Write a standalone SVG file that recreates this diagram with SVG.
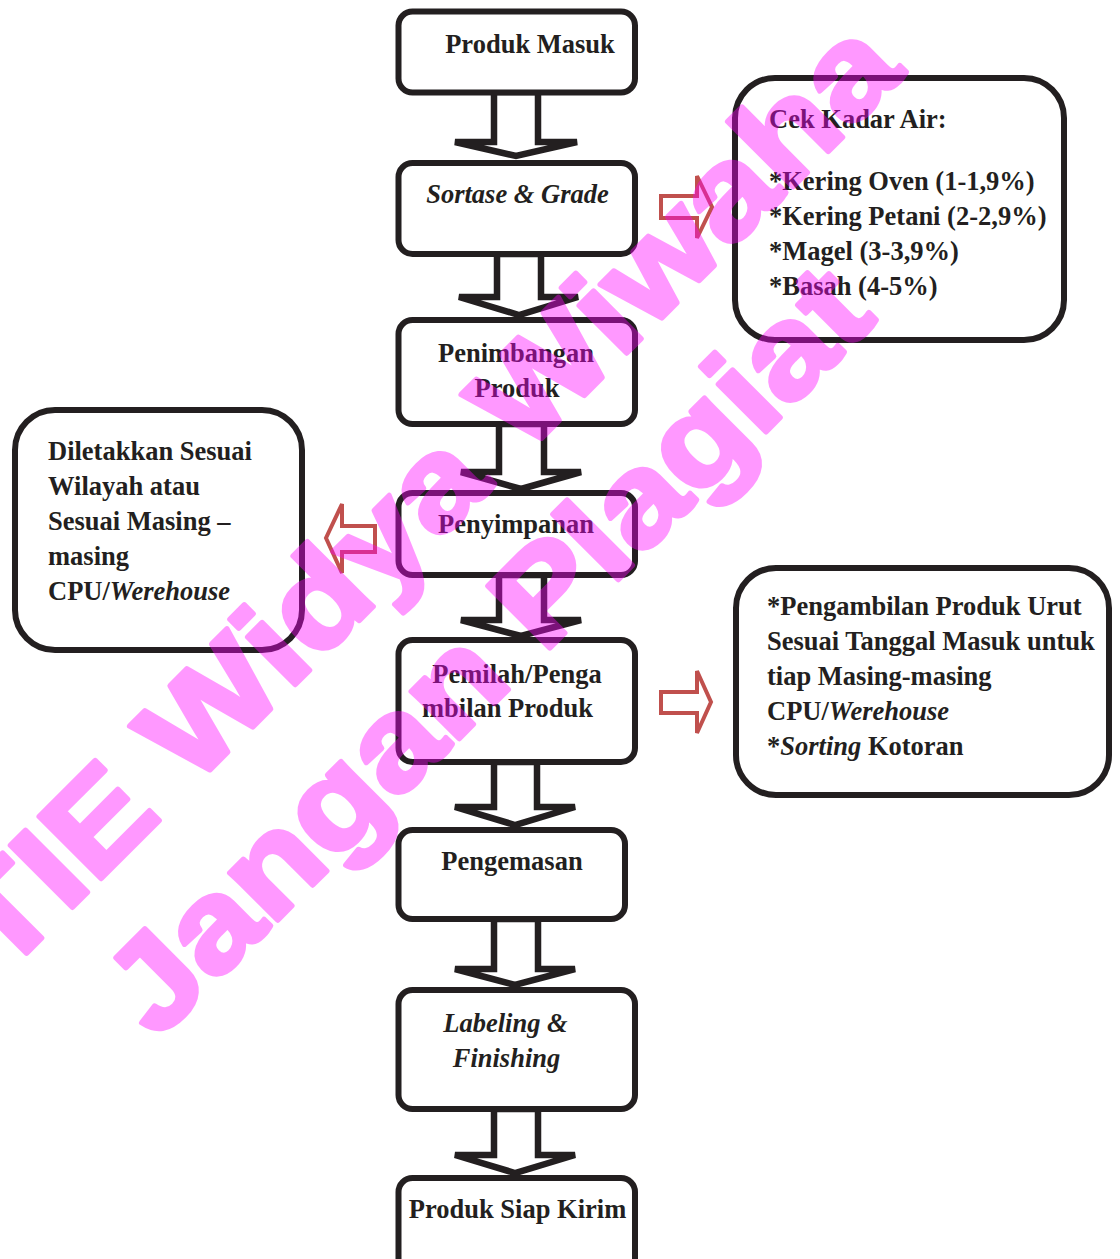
<svg xmlns="http://www.w3.org/2000/svg" width="1120" height="1259" viewBox="0 0 1120 1259">
<style>
.box{fill:#fff;stroke:#231f20;stroke-width:6}
.blk{fill:#fff;stroke:#231f20;stroke-width:6.5;stroke-linejoin:miter}
.red{fill:#fff;stroke:#c0504d;stroke-width:4;stroke-linejoin:miter}
text{font-family:"Liberation Serif","Times New Roman",serif;font-weight:bold;font-size:26.5px;fill:#231f20}
.c{text-anchor:middle}
.i{font-style:italic}
.wm{font-family:"Liberation Sans",Arial,sans-serif;font-weight:bold;font-size:128px;fill:#ff00ff;stroke:#ff00ff;stroke-width:5;stroke-linejoin:round}
</style>
<rect width="1120" height="1259" fill="#fff"/>
<g id="connectors">
<polygon class="blk" points="494,92 494,142 455,142 516,156 577,142 538,142 538,92"/>
<polygon class="blk" points="497,254 497,297 459,297 519,315 578,297 541,297 541,254"/>
<polygon class="blk" points="499,424 499,472 461,472 521,489 581,472 544,472 544,424"/>
<polygon class="blk" points="499,575 499,620 461,620 521,636 581,620 544,620 544,575"/>
<polygon class="blk" points="494,762 494,807 455,807 515,825 575,807 537,807 537,762"/>
<polygon class="blk" points="494,919 494,969 455,969 515,985 575,969 538,969 538,919"/>
<polygon class="blk" points="494,1109 494,1155 455,1155 515,1173 575,1155 538,1155 538,1109"/>
<polygon class="red" points="661,196 697,196 697,176 712,207 697,238 697,218 661,218"/>
<polygon class="red" points="375,526 342,526 342,504 326,538 342,573 342,552 375,552"/>
<polygon class="red" points="661,692 697,692 697,671 711,702 697,733 697,713 661,713"/>
</g>
<g id="n1"><rect class="box" x="398.5" y="11.5" width="236.5" height="81" rx="14"/><text class="c" x="530" y="53">Produk Masuk</text></g>
<g id="n2"><rect class="box" x="398.5" y="163" width="236.5" height="91" rx="14"/><text class="c i" x="517.5" y="203">Sortase &amp; Grade</text></g>
<g id="n3"><rect class="box" x="398.5" y="320" width="236.5" height="104" rx="14"/><text class="c" x="516" y="362">Penimbangan</text><text class="c" x="517" y="397">Produk</text></g>
<g id="n4"><rect class="box" x="398.5" y="493" width="236.5" height="82" rx="14"/><text class="c" x="516" y="533">Penyimpanan</text></g>
<g id="n5"><rect class="box" x="398.5" y="640" width="236.5" height="122" rx="14"/><text class="c" x="517" y="683">Pemilah/Penga</text><text class="c" x="507.5" y="717">mbilan Produk</text></g>
<g id="n6"><rect class="box" x="398.5" y="830" width="226.5" height="89" rx="14"/><text class="c" x="512" y="870">Pengemasan</text></g>
<g id="n7"><rect class="box" x="398.5" y="990" width="236.5" height="119" rx="14"/><text class="c i" x="505.5" y="1032">Labeling &amp;</text><text class="c i" x="506.5" y="1067">Finishing</text></g>
<g id="n8"><rect class="box" x="398.5" y="1178" width="236.5" height="110" rx="14"/><text class="c" x="517.5" y="1218">Produk Siap Kirim</text></g>
<g id="n9"><rect class="box" x="735" y="78" width="329" height="262" rx="40"/>
<text x="769" y="128">Cek Kadar Air:</text>
<text x="769" y="190">*Kering Oven (1-1,9%)</text>
<text x="769" y="225">*Kering Petani (2-2,9%)</text>
<text x="769" y="260">*Magel (3-3,9%)</text>
<text x="769" y="295">*Basah (4-5%)</text></g>
<g id="n10"><rect class="box" x="15" y="410" width="287" height="240" rx="40"/>
<text x="48" y="460">Diletakkan Sesuai</text>
<text x="48" y="495">Wilayah atau</text>
<text x="48" y="530">Sesuai Masing –</text>
<text x="48" y="565">masing</text>
<text x="48" y="600">CPU/<tspan class="i">Werehouse</tspan></text></g>
<g id="n11"><rect class="box" x="736" y="568" width="373" height="227" rx="40"/>
<text x="767" y="615">*Pengambilan Produk Urut</text>
<text x="767" y="650">Sesuai Tanggal Masuk untuk</text>
<text x="767" y="685">tiap Masing-masing</text>
<text x="767" y="720">CPU/<tspan class="i">Werehouse</tspan></text>
<text x="767" y="755">*<tspan class="i">Sorting</tspan> Kotoran</text></g>
<g id="watermark" opacity="0.4">
<text class="wm" transform="translate(-66,1046) rotate(-45)" textLength="1375" lengthAdjust="spacingAndGlyphs">STIE Widya Wiwaha</text>
<text class="wm" transform="translate(157,1041) rotate(-45)" textLength="1020" lengthAdjust="spacingAndGlyphs">Jangan Plagiat</text>
</g>
</svg>
